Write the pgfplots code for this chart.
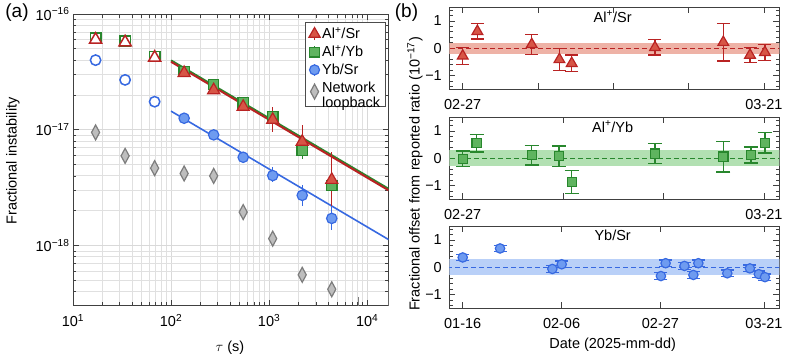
\documentclass[border=0pt]{standalone}
\usepackage{fontspec}
\setmainfont{Liberation Sans}
\usepackage{pgfplots}
\pgfplotsset{compat=1.18}

\definecolor{redE}{RGB}{185,35,35}
\definecolor{redF}{RGB}{215,85,70}
\definecolor{redB}{RGB}{238,178,166}
\definecolor{grnE}{RGB}{40,135,45}
\definecolor{grnF}{RGB}{95,180,95}
\definecolor{grnB}{RGB}{178,224,178}
\definecolor{bluE}{RGB}{55,105,225}
\definecolor{bluF}{RGB}{110,155,240}
\definecolor{bluB}{RGB}{185,208,248}
\definecolor{gryE}{RGB}{125,125,125}
\definecolor{gryF}{RGB}{190,190,190}

\pgfplotsset{
  base/.style={
    scale only axis, anchor=south west,
    tick align=inside,
    major tick length=6bp, minor tick length=3.5bp,
    axis line style={black!75, line width=1bp},
    every tick/.append style={black!75, line width=0.8bp},
    tick label style={font=\fontsize{14.5bp}{17bp}\selectfont},
  },
  offs/.style={base, width=330bp, height=82bp,
    ymin=-1.5, ymax=1.5, ytick={-1,0,1}, yticklabels={−1,0,1},
    minor ytick={-1.4,-1.2,...,1.41},
    yticklabel style={xshift=-4bp},
    xticklabel style={yshift=-7bp},
  },
  zline/.style={dash pattern=on 5bp off 3bp, line width=1.2bp},
  tri/.style={only marks, mark=triangle*, mark size=6.2bp,
    mark options={draw=redE, fill=redF, line width=1.2bp},
    error bars/.cd, y dir=both, y explicit,
    error bar style={redE, line width=1.3bp},
    error mark options={rotate=90, redE, mark size=6.5bp, line width=1.3bp}},
  sqr/.style={only marks, mark=square*, mark size=4.6bp,
    mark options={draw=grnE, fill=grnF, line width=1.2bp},
    error bars/.cd, y dir=both, y explicit,
    error bar style={grnE, line width=1.3bp},
    error mark options={rotate=90, grnE, mark size=7bp, line width=1.3bp}},
  crc/.style={only marks, mark=*, mark size=4.7bp,
    mark options={draw=bluE, fill=bluF, line width=1.2bp},
    error bars/.cd, y dir=both, y explicit,
    error bar style={bluE, line width=1.3bp},
    error mark options={rotate=90, bluE, mark size=6.5bp, line width=1.3bp}},
}

\begin{document}
\begin{tikzpicture}[font=\fontsize{14.5bp}{17bp}\selectfont]
\path[use as bounding box] (0,0) rectangle (792bp,360bp);

% ---------- (a) instability ----------
\begin{axis}[base, at={(73bp,54.3bp)}, width=315.5bp, height=291.7bp,
  xmode=log, ymode=log, xmin=10, xmax=1.65e4, ymin=3.03e-19, ymax=1e-16,
  xtick={10,100,1000,10000},
  xticklabels={10\textsuperscript{1},10\textsuperscript{2},10\textsuperscript{3},10\textsuperscript{4}},
  xticklabel style={yshift=-5bp},
  ytick={1e-18,1e-17,1e-16},
  yticklabels={10\textsuperscript{−18},10\textsuperscript{−17},10\textsuperscript{−16}},
  minor xtick={20,30,40,50,60,70,80,90,200,300,400,500,600,700,800,900,
    2000,3000,4000,5000,6000,7000,8000,9000},
  minor ytick={4e-19,5e-19,6e-19,7e-19,8e-19,9e-19,2e-18,3e-18,4e-18,5e-18,
    6e-18,7e-18,8e-18,9e-18,2e-17,3e-17,4e-17,5e-17,6e-17,7e-17,8e-17,9e-17},
  grid=both,
  major grid style={black!15, line width=0.9bp},
  minor grid style={black!12, line width=0.9bp},
  legend cell align=left,
  legend style={at={(0.991,0.9715)}, anchor=north east, draw=black!70,
    line width=0.9bp, fill=white, inner xsep=3bp, inner ysep=3bp, row sep=1.5bp,
    font=\fontsize{14.5bp}{16bp}\selectfont},
  legend image code/.code={
    \draw[#1, mark=none, line width=1.2bp] (0.3cm,-6bp) -- (0.3cm,6bp);
    \draw[#1, only marks] plot coordinates {(0.3cm,0cm)};
  },
]
\addlegendimage{only marks, redE, mark=triangle*, mark size=6.5bp,
  mark options={draw=redE, fill=redF, line width=1.2bp}}
\addlegendentry{Al\textsuperscript{+}/Sr}
\addlegendimage{only marks, grnE, mark=square*, mark size=4.8bp,
  mark options={draw=grnE, fill=grnF, line width=1.2bp}}
\addlegendentry{Al\textsuperscript{+}/Yb}
\addlegendimage{only marks, bluE, mark=*, mark size=5bp,
  mark options={draw=bluE, fill=bluF, line width=1.2bp}}
\addlegendentry{Yb/Sr}
\addlegendimage{only marks, draw=none, mark=diamond*, mark size=7.5bp,
  mark options={draw=gryE, fill=gryF, line width=1.2bp, xscale=0.72}}
\addlegendentry{\begin{tabular}{@{}l@{}}Network\\[-1bp]loopback\end{tabular}}

% fits
\addplot[forget plot, bluE, line width=1.6bp] coordinates {(100,1.45e-17) (1.65e4,1.13e-18)};
\addplot[forget plot, grnE, line width=2bp] coordinates {(100,3.98e-17) (1.65e4,3.10e-18)};
\addplot[forget plot, redE, line width=2bp] coordinates {(100,3.87e-17) (1.65e4,3.01e-18)};

% network loopback
\addplot[forget plot, only marks, mark=diamond*, mark size=7.5bp,
  mark options={draw=gryE, fill=gryF, line width=1.2bp, xscale=0.72},
  error bars/.cd, y dir=both, y explicit, error mark=none,
  error bar style={gryE, line width=1.3bp}]
  coordinates {
  (17,9.5e-18) +- (0,0) (34,5.96e-18) +- (0,0) (68,4.67e-18) +- (0,0)
  (136,4.2e-18) +- (0,0) (272,4.0e-18) +- (0,0) (544,1.95e-18) +- (0,0)
  (1088,1.15e-18) +- (0,0) (2176,5.6e-19) +- (0,0) (4352,4.2e-19) +- (0,0)
  (8192,2.5e-19) += (0,1.1e-19) -= (0,0.5e-19)
  (16384,2.85e-19) += (0,2.05e-19) -= (0,1e-19)
};

% Yb/Sr
\addplot[forget plot, only marks, mark=*, mark size=5.2bp,
  mark options={draw=bluE, fill=white, line width=1.5bp}]
  coordinates {(17,4.0e-17) (34,2.7e-17) (68,1.75e-17)};
\addplot[forget plot, only marks, mark=*, mark size=5.2bp,
  mark options={draw=bluE, fill=bluF, line width=1.2bp},
  error bars/.cd, y dir=both, y explicit, error mark=none,
  error bar style={bluE, line width=1.3bp}]
  coordinates {
  (136,1.26e-17) +- (0,0.04e-17)
  (272,9.05e-18) +- (0,0.6e-18)
  (544,5.8e-18) +- (0,0.4e-18)
  (1088,4.03e-18) += (0,0.79e-18) -= (0,0.46e-18)
  (2176,2.72e-18) += (0,0.6e-18) -= (0,0.5e-18)
  (4352,1.72e-18) += (0,0.53e-18) -= (0,0.35e-18)
};

% Al+/Yb
\addplot[forget plot, only marks, mark=square*, mark size=5.2bp,
  mark options={draw=grnE, fill=white, line width=1.5bp}]
  coordinates {(17,6.2e-17) (34,5.85e-17) (68,4.3e-17)};
\addplot[forget plot, only marks, mark=square*, mark size=5.2bp,
  mark options={draw=grnE, fill=grnF, line width=1.2bp},
  error bars/.cd, y dir=both, y explicit, error mark=none,
  error bar style={grnE, line width=1.3bp}]
  coordinates {
  (136,3.2e-17) +- (0,0.1e-17)
  (272,2.47e-17) +- (0,0.12e-17)
  (544,1.71e-17) +- (0,0.2e-17)
  (1088,1.29e-17) +- (0,0.15e-17)
  (2176,6.7e-18) +- (0,1.1e-18)
  (4352,3.3e-18) +- (0,0.5e-18)
};

% Al+/Sr
\addplot[forget plot, only marks, mark=triangle*, mark size=7bp,
  mark options={draw=redE, fill=white, line width=1.5bp}]
  coordinates {(17,6.0e-17) (34,5.7e-17) (68,4.2e-17)};
\addplot[forget plot, only marks, mark=triangle*, mark size=7bp,
  mark options={draw=redE, fill=redF, line width=1.2bp},
  error bars/.cd, y dir=both, y explicit, error mark=none,
  error bar style={redE, line width=1.3bp}]
  coordinates {
  (136,3.1e-17) +- (0,0.1e-17)
  (272,2.2e-17) +- (0,0.12e-17)
  (544,1.58e-17) +- (0,0.12e-17)
  (1088,1.22e-17) += (0,0.36e-17) -= (0,0.27e-17)
  (2176,7.9e-18) += (0,3.1e-18) -= (0,1.8e-18)
  (4352,3.7e-18) += (0,2.8e-18) -= (0,1.5e-18)
};
\end{axis}

% ---------- (b) Al+/Sr ----------
\begin{axis}[offs, at={(449.3bp,270.7bp)}, xmin=-0.98, xmax=23.12,
  xtick={0,5.5,11,16.5,22}, xticklabels={02-27,,,,03-21}]
\addplot[draw=none, fill=redB] coordinates {(-5,-0.21) (30,-0.21) (30,0.21) (-5,0.21)};
\addplot[redE, zline] coordinates {(-5,0) (30,0)};
\addplot[tri] coordinates {
  (0.00,-0.28) +- (0,0.31)
  (1.07,0.62) +- (0,0.28)
  (5.04,0.14) +- (0,0.37)
  (7.06,-0.41) +- (0,0.39)
  (7.96,-0.55) +- (0,0.30)
  (14.04,0.03) +- (0,0.28)
  (19.03,0.22) +- (0,0.68)
  (20.98,-0.25) +- (0,0.28)
  (22.07,-0.15) +- (0,0.29)
};
\node at (rel axis cs:0.495,0.885) {Al\textsuperscript{+}/Sr};
\end{axis}

% ---------- (b) Al+/Yb ----------
\begin{axis}[offs, at={(449.3bp,160.7bp)}, xmin=-0.98, xmax=23.12,
  xtick={0,7.3333,14.6667,22}, xticklabels={02-27,,,03-21}]
\addplot[draw=none, fill=grnB] coordinates {(-5,-0.29) (30,-0.29) (30,0.29) (-5,0.29)};
\addplot[grnE, zline] coordinates {(-5,0) (30,0)};
\addplot[sqr] coordinates {
  (0.00,-0.02) +- (0,0.29)
  (1.02,0.55) +- (0,0.32)
  (5.04,0.11) +- (0,0.36)
  (7.03,0.08) +- (0,0.37)
  (7.96,-0.87) +- (0,0.42)
  (14.04,0.17) +- (0,0.36)
  (19.03,0.06) +- (0,0.56)
  (21.05,0.12) +- (0,0.29)
  (22.07,0.57) +- (0,0.38)
};
\node at (rel axis cs:0.495,0.885) {Al\textsuperscript{+}/Yb};
\end{axis}

% ---------- (b) Yb/Sr ----------
\begin{axis}[offs, at={(449.3bp,51.7bp)}, xmin=-2.85, xmax=67.25,
  xtick={0,21,42,64}, xticklabels={01-16,02-06,02-27,03-21}]
\addplot[draw=none, fill=bluB] coordinates {(-5,-0.29) (70,-0.29) (70,0.31) (-5,0.31)};
\addplot[bluE, zline] coordinates {(-5,0) (70,0)};
\addplot[crc] coordinates {
  (0,0.36) +- (0,0.12)
  (7.93,0.69) +- (0,0.12)
  (19.04,-0.06) +- (0,0.12)
  (21.03,0.11) +- (0,0.12)
  (42.1,-0.32) +- (0,0.12)
  (43.1,0.15) +- (0,0.12)
  (47.1,0.05) +- (0,0.12)
  (49.0,-0.28) +- (0,0.12)
  (50.05,0.15) +- (0,0.12)
  (56.2,-0.22) +- (0,0.12)
  (61.0,-0.04) +- (0,0.12)
  (62.9,-0.25) +- (0,0.12)
  (64.2,-0.36) +- (0,0.12)
};
\node at (rel axis cs:0.495,0.885) {Yb/Sr};
\end{axis}

% labels
\node[font=\fontsize{19bp}{21bp}\selectfont] at (17bp,347bp) {(a)};
\node[font=\fontsize{19bp}{21bp}\selectfont] at (406.5bp,347bp) {(b)};
\node[rotate=90] at (13bp,199bp) {Fractional instability};
\node at (230bp,12bp) {$\tau$ (s)};
\node[rotate=90] at (415bp,186bp) {Fractional offset from reported ratio (10\textsuperscript{−17})};
\node at (612.7bp,15bp) {Date (2025-mm-dd)};
\end{tikzpicture}
\end{document}
